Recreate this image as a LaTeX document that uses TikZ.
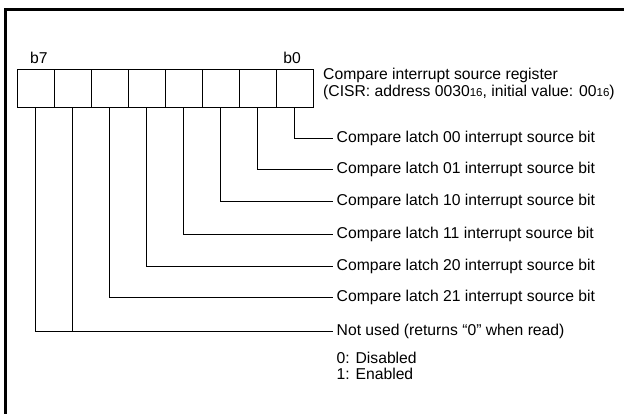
\documentclass[tikz,border=0pt]{standalone}
\usepackage{fontspec}
\setmainfont{Liberation Sans}
\usetikzlibrary{positioning}

\newcommand{\hexsub}[1]{{\fontsize{11.5}{12}\selectfont #1}}

\tikzset{
  cell/.style={draw, line width=0.8pt, minimum width=37pt, minimum height=38pt, inner sep=0pt},
  bitlabel/.style={anchor=west, inner sep=3.5pt, font=\fontsize{15.7}{16.5}\selectfont},
  lead/.style={line width=0.8pt},
}

\begin{document}
\begin{tikzpicture}[x=1pt, y=-1pt]
    \useasboundingbox (0,0) rectangle (624,414);
    % Frame
    \draw[line width=3pt] (5.5,414) -- (5.5,10) -- (624,10);
    % Register cells b7 ... b0
    \foreach \i in {7,...,0}
      \node[cell] (c\i) at ({35.5+37*(7-\i)},88) {};
    \node[font=\fontsize{15.7}{16.5}\selectfont, above=1pt of c7.north west, anchor=south west, xshift=10pt] (b7) {b7};
    \node[font=\fontsize{15.7}{16.5}\selectfont, above=1pt of c0.north east, anchor=south east, xshift=-9pt] (b0) {b0};
    \node[bitlabel, align=left, anchor=west, inner sep=0pt] (reg) at (323,84)
      {Compare interrupt source register\\(CISR: address 0030\hexsub{16}, initial value: 00\hexsub{16})};
    % Bit descriptions
    \node[bitlabel] (l0) at (333,138) {Compare latch 00 interrupt source bit};
    \node[bitlabel] (l1) at (333,169) {Compare latch 01 interrupt source bit};
    \node[bitlabel] (l2) at (333,201) {Compare latch 10 interrupt source bit};
    \node[bitlabel] (l3) at (333,234) {Compare latch 11 interrupt source bit};
    \node[bitlabel] (l4) at (333,266) {Compare latch 20 interrupt source bit};
    \node[bitlabel] (l5) at (333,297) {Compare latch 21 interrupt source bit};
    \node[bitlabel] (nu) at (333,331) {Not used (returns “0” when read)};
    \node[bitlabel, align=left, below=6pt of nu.south west, anchor=north west] (val)
      {0: Disabled\\1: Enabled};
    % Leader lines
    \foreach \i in {0,...,5}
      \draw[lead] (c\i.south) |- (l\i.west);
    \draw[lead] (c7.south) |- (nu.west);
    \draw[lead] (c6.south) -- (c6.south |- nu.west);
\end{tikzpicture}
\end{document}
